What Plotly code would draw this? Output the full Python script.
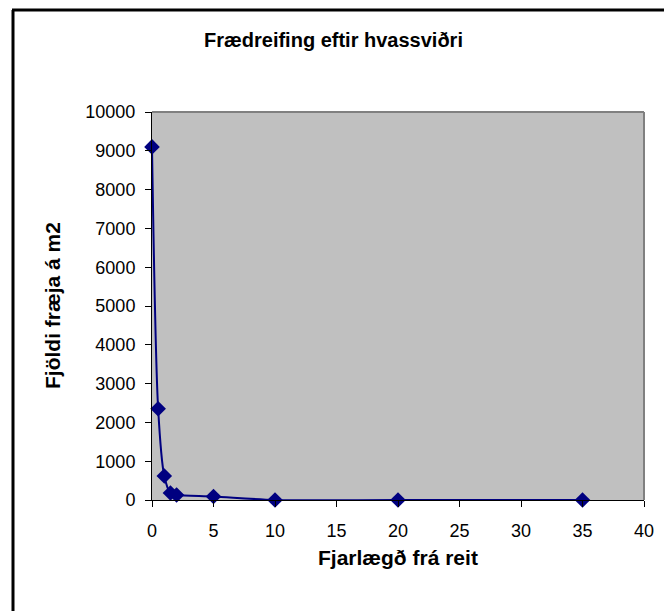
import plotly.graph_objects as go

# Data
distance = [0, 0.5, 1, 1.5, 2, 5, 10, 20, 35]
seeds_per_m2 = [9100, 2350, 620, 180, 130, 90, 0, 0, 0]

title_text = "Frædreifing eftir hvassviðri"
x_title = "Fjarlægð frá reit"
y_title = "Fjöldi fræja á m2"
x_ticks = [0, 5, 10, 15, 20, 25, 30, 35, 40]
y_ticks = [0, 1000, 2000, 3000, 4000, 5000, 6000, 7000, 8000, 9000, 10000]

navy = "#000080"
font_family = "Liberation Sans, Arial, sans-serif"

fig = go.Figure()
fig.add_trace(go.Scatter(
    x=distance, y=seeds_per_m2,
    mode="lines+markers",
    line=dict(color=navy, width=2, shape="spline", smoothing=0.8),
    marker=dict(symbol="diamond", size=12, color=navy),
    cliponaxis=False,
    showlegend=False,
))

W, H = 664, 611
# plot-area edges in page pixels
L, R, T, B = 152, 644, 112, 500

def px_x(p):
    return (p - L) / (R - L)

def px_y(p):
    return (B - p) / (B - T)

fig.update_layout(
    width=W, height=H,
    autosize=False,
    margin=dict(l=L, r=W - R, t=T, b=H - B, pad=0),
    paper_bgcolor="white",
    plot_bgcolor="#C0C0C0",
    font=dict(family=font_family, size=18, color="black"),
    xaxis=dict(
        range=[0, 40], tickvals=x_ticks, ticktext=[str(v) for v in x_ticks],
        showgrid=False, zeroline=False, showline=True, linecolor="black", linewidth=1,
        ticks="outside", ticklen=6, tickcolor="black", ticklabelstandoff=8,
        tickfont=dict(size=18), automargin=False,
    ),
    yaxis=dict(
        range=[0, 10000], tickvals=y_ticks, ticktext=[str(v) for v in y_ticks],
        showgrid=False, zeroline=False, showline=True, linecolor="black", linewidth=1,
        ticks="outside", ticklen=6, tickcolor="black", ticklabelstandoff=6,
        tickfont=dict(size=18), automargin=False,
    ),
    shapes=[
        # plot area frame (top and right edges, gray)
        dict(type="line", xref="paper", yref="paper", x0=0, x1=1, y0=1, y1=1,
             line=dict(color="#808080", width=2)),
        dict(type="line", xref="paper", yref="paper", x0=1, x1=1, y0=0, y1=1,
             line=dict(color="#808080", width=2)),
        # outer chart border: only its left and top edges fall inside the window
        dict(type="line", xref="paper", yref="paper",
             x0=px_x(13), x1=px_x(13), y0=px_y(640), y1=px_y(10),
             line=dict(color="black", width=3)),
        dict(type="line", xref="paper", yref="paper",
             x0=px_x(12), x1=px_x(700), y0=px_y(10), y1=px_y(10),
             line=dict(color="black", width=3)),
    ],
    annotations=[
        dict(text=f"<b>{title_text}</b>", xref="paper", yref="paper",
             x=px_x(333), y=px_y(40), showarrow=False,
             xanchor="center", yanchor="middle", font=dict(size=20)),
        dict(text=f"<b>{x_title}</b>", xref="paper", yref="paper",
             x=px_x(398), y=px_y(557), showarrow=False,
             xanchor="center", yanchor="middle", font=dict(size=21)),
        dict(text=f"<b>{y_title}</b>", xref="paper", yref="paper",
             x=px_x(52), y=px_y(306), showarrow=False, textangle=-90,
             xanchor="center", yanchor="middle", font=dict(size=21)),
    ],
)

fig.write_html(
    "out.html",
    config={"responsive": False, "displayModeBar": False},
    post_script="document.body.style.margin='0px';document.body.style.overflow='hidden';",
)
